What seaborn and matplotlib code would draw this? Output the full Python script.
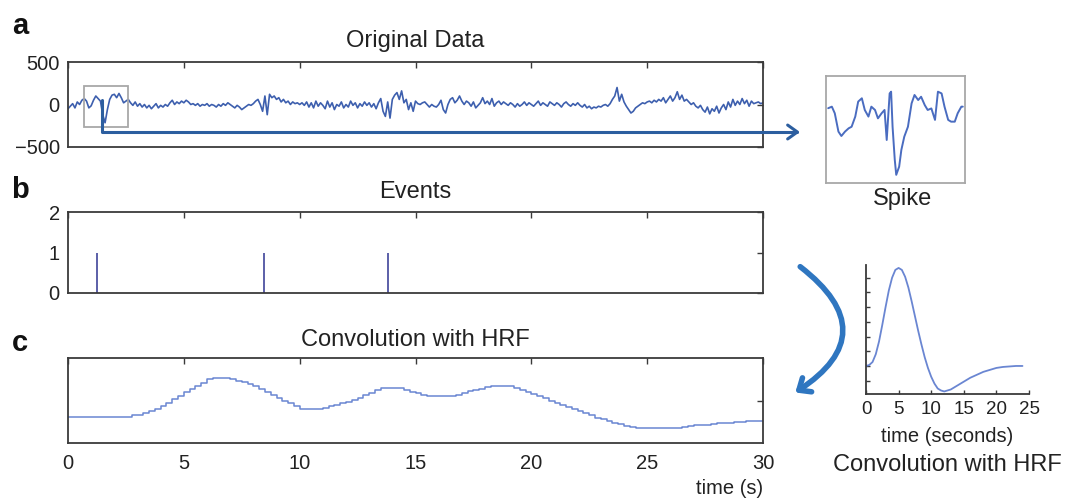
import numpy as np
import pandas as pd
import matplotlib
matplotlib.use("Agg")
import matplotlib.pyplot as plt
import seaborn as sns
from matplotlib.patches import Rectangle, FancyArrowPatch
from matplotlib.path import Path

# ---------------- data ----------------
eeg_step = 0.1  # seconds between samples of the raw trace
eeg_values = [
    -50, -20, 10, -40, 30, 0, 50, 70, 40, -40,
    -15, 50, 100, 70, 40, -120, -215, -60, 60, 110,
    120, 80, 130, 80, 20, 40, 60, 20, -10, 30,
    -20, 10, -30, 0, -40, -10, -50, -20, 10, -40,
    -10, -30, 0, -20, 20, 50, 0, 30, 10, 40,
    20, 50, 30, 0, 10, -10, 10, -20, 0, -10,
    10, -20, 0, -10, -30, 0, -20, 10, -10, 20,
    0, -20, -40, -10, -30, -60, -40, -20, 0, -10,
    10, 40, 60, 0, -80, 100, -120, 120, 80, 100,
    60, 80, 30, 60, 20, 40, 0, 30, 10, 20,
    0, 20, -10, 30, -30, 20, -40, 40, -20, 20,
    -10, -50, 40, -30, 20, -60, 0, -20, 30, -40,
    0, -30, 40, -10, 20, -40, 10, -20, 30, -10,
    20, -30, 10, -50, 20, 70, -80, -140, 30, -160,
    60, 110, 140, 60, 160, 20, 60, -60, 20, -80,
    40, 10, 0, 20, 30, 0, -30, 0, -20, -30,
    0, 50, -60, -100, 0, 60, 80, 20, 50, 100,
    40, 0, 40, 20, -20, 30, -40, -10, 20, 80,
    10, 40, 0, 70, -20, 20, 40, 0, 30, 10,
    -10, 20, 0, -30, 10, -20, 0, 30, -10, 20,
    0, -20, 10, 40, -10, 20, 0, -20, 30, 10,
    -10, 20, 0, -30, 10, 30, 0, -20, 10, -10,
    20, -10, -30, 0, -40, -20, -50, -30, -40, -20,
    -30, -10, 0, -20, 10, 60, 100, 200, 40, 120,
    30, -20, -60, -100, -80, -40, -20, 0, 20, 10,
    30, 40, 20, 50, 30, 60, 40, 80, 20, 60,
    100, 40, 80, 150, 60, 110, 40, 60, 30, 0,
    20, -20, -40, -10, -60, -90, -30, -110, -50, -80,
    -20, -100, -40, 0, -60, 30, -30, 60, -10, 40,
    0, 70, 10, 50, -20, 40, 10, 20, 30, 10,
    20,
]

spike_t = [0.72, 0.77, 0.81, 0.86, 0.90, 0.95, 1.00, 1.04, 1.09, 1.13, 1.18,
           1.22, 1.27, 1.31, 1.36, 1.40, 1.45, 1.49, 1.52, 1.56, 1.58, 1.60,
           1.63, 1.65, 1.69, 1.72, 1.76, 1.81, 1.86, 1.90, 1.95, 1.99, 2.04,
           2.08, 2.13, 2.18, 2.22, 2.27, 2.31, 2.36, 2.40, 2.45, 2.49, 2.54, 2.56]
spike_v = [74, 81, 51, -32, -52, -32, -17, -10, 36, 104, 119,
           66, 36, 81, 66, 28, 51, 66, -70, 141, 149, -10,
           -160, -228, -191, -115, -55, -10, 96, 134, 111, 126, 88,
           66, 73, 21, 149, 141, 81, 21, 13, 13, 51, 81, 81]
spike_window = (0.69, 2.59)
spike_range = (-265, 220)

event_times = [1.25, 8.47, 13.8]
event_heights = [1, 1, 1]

conv_step = 0.25
conv_values = [
    0.62, 0.62, 0.62, 0.62,
    0.62, 0.62, 0.62, 0.62,
    0.62, 0.62, 0.62, 0.66,
    0.66, 0.70, 0.75, 0.81,
    0.88, 0.95, 1.03, 1.11,
    1.19, 1.27, 1.35, 1.42,
    1.50, 1.52, 1.52, 1.52,
    1.50, 1.47, 1.43, 1.38,
    1.33, 1.27, 1.21, 1.14,
    1.07, 1.00, 0.93, 0.86,
    0.80, 0.80, 0.80, 0.80,
    0.83, 0.86, 0.89, 0.93,
    0.97, 1.02, 1.07, 1.12,
    1.17, 1.24, 1.29, 1.29,
    1.29, 1.29, 1.25, 1.21,
    1.18, 1.14, 1.10, 1.10,
    1.10, 1.10, 1.10, 1.14,
    1.18, 1.22, 1.25, 1.28,
    1.31, 1.33, 1.35, 1.35,
    1.33, 1.29, 1.24, 1.20,
    1.15, 1.10, 1.05, 1.00,
    0.95, 0.90, 0.85, 0.80,
    0.75, 0.70, 0.65, 0.60,
    0.56, 0.51, 0.47, 0.44,
    0.41, 0.38, 0.35, 0.35,
    0.35, 0.35, 0.35, 0.35,
    0.35, 0.35, 0.38, 0.40,
    0.42, 0.42, 0.42, 0.45,
    0.47, 0.47, 0.47, 0.49,
    0.50, 0.52, 0.52, 0.52,
    0.52,
]

hrf_t = [0, 0.5, 1, 1.5, 2, 2.5, 3, 3.5, 4, 4.5, 5, 5.5, 6, 6.5, 7, 7.5, 8,
         8.5, 9, 9.5, 10, 10.5, 11, 11.5, 12, 12.5, 13, 13.5, 14, 15, 16, 17,
         18, 19, 20, 21, 22, 23, 24]
hrf_v = [0.0, 0.01, 0.04, 0.12, 0.25, 0.42, 0.60, 0.77, 0.90, 0.98, 1.0,
         0.98, 0.91, 0.80, 0.66, 0.51, 0.36, 0.22, 0.09, -0.02, -0.11, -0.18,
         -0.23, -0.25, -0.26, -0.25, -0.24, -0.22, -0.20, -0.16, -0.12, -0.09,
         -0.06, -0.04, -0.02, -0.01, -0.005, 0.0, 0.0]

time_ticks = [0, 5, 10, 15, 20, 25, 30]
hrf_ticks = [0, 5, 10, 15, 20, 25]

# ---------------- style ----------------
sns.set_theme(style="white")
plt.rcParams["font.family"] = ["Liberation Sans", "DejaVu Sans"]
plt.rcParams["axes.unicode_minus"] = True

W, H = 1076, 501
fig = plt.figure(figsize=(W / 100, H / 100), dpi=100)
fig.patch.set_facecolor("white")

SPINE = "#3a3a3a"
TXT = "#222222"
TICK_FS = 14.5
TITLE_FS = 17
LABEL_FS = 14.5
LETTER_FS = 21


def px_axes(x0, y0, x1, y1):
    return fig.add_axes([x0 / W, 1 - y1 / H, (x1 - x0) / W, (y1 - y0) / H])


def fy(y):
    return 1 - y / H


def box_style(ax, color=SPINE):
    for s in ax.spines.values():
        s.set_visible(True)
        s.set_color(color)
        s.set_linewidth(1.3)
    ax.tick_params(direction="in", top=True, right=True, length=4,
                   width=1.0, color=SPINE, labelsize=TICK_FS, labelcolor=TXT, pad=6)


LINE_A = "#3d5fae"
LINE_C = "#6a86d2"

# ---------------- panel a ----------------
ax_a = px_axes(68, 62, 763, 147)
eeg_df = pd.DataFrame({"t": np.arange(len(eeg_values)) * eeg_step, "v": eeg_values})
sns.lineplot(data=eeg_df, x="t", y="v", ax=ax_a, color=LINE_A, linewidth=1.2)
ax_a.set_xlim(0, 30)
ax_a.set_ylim(-500, 500)
ax_a.set_xticks(time_ticks)
ax_a.set_xticklabels([])
ax_a.set_yticks([-500, 0, 500])
ax_a.set_yticklabels(["\u2212500", "0", "500"])
ax_a.set_xlabel("")
ax_a.set_ylabel("")
box_style(ax_a)
ax_a.add_patch(Rectangle((spike_window[0], spike_range[0]),
                         spike_window[1] - spike_window[0],
                         spike_range[1] - spike_range[0],
                         fill=False, edgecolor="#a8a8a8", linewidth=1.3, zorder=5))

# ---------------- spike inset ----------------
ax_s = px_axes(826, 76, 965, 183)
spike_df = pd.DataFrame({"t": spike_t, "v": spike_v})
sns.lineplot(data=spike_df, x="t", y="v", ax=ax_s, color="#4a6cc0", linewidth=1.4)
ax_s.set_xlim(*spike_window)
ax_s.set_ylim(*spike_range)
ax_s.set_xticks([])
ax_s.set_yticks([])
ax_s.set_xlabel("")
ax_s.set_ylabel("")
for s in ax_s.spines.values():
    s.set_visible(True)
    s.set_color("#a8a8a8")
    s.set_linewidth(1.3)

# ---------------- panel b ----------------
ax_b = px_axes(68, 212, 763, 293)
ax_b.vlines(event_times, 0, event_heights, color="#5b5fa8", linewidth=1.4)
ax_b.set_xlim(0, 30)
ax_b.set_ylim(0, 2)
ax_b.set_xticks(time_ticks)
ax_b.set_xticklabels([])
ax_b.set_yticks([0, 1, 2])
ax_b.set_yticklabels(["0", "1", "2"])
box_style(ax_b)

# ---------------- panel c ----------------
ax_c = px_axes(68, 358, 763, 443)
conv_df = pd.DataFrame({"t": np.arange(len(conv_values)) * conv_step, "v": conv_values})
sns.lineplot(data=conv_df, x="t", y="v", ax=ax_c, color=LINE_C, linewidth=1.1,
             drawstyle="steps-post")
ax_c.set_xlim(0, 30)
ax_c.set_ylim(0, 2)
ax_c.set_xticks(time_ticks)
ax_c.set_xticklabels([str(t) for t in time_ticks])
ax_c.set_yticks([1])
ax_c.set_yticklabels([])
ax_c.set_xlabel("")
ax_c.set_ylabel("")
box_style(ax_c)
ax_c.tick_params(axis="x", pad=8)

# ---------------- HRF inset ----------------
ax_h = px_axes(866, 265, 1029, 394)
hrf_df = pd.DataFrame({"t": hrf_t, "v": hrf_v})
sns.lineplot(data=hrf_df, x="t", y="v", ax=ax_h, color=LINE_C, linewidth=1.3)
ax_h.set_xlim(0, 25)
ax_h.set_ylim(-0.286, 1.03)
ax_h.set_xticks(hrf_ticks)
ax_h.set_xticklabels([str(t) for t in hrf_ticks])
ax_h.set_yticks([-0.15, 0.0, 0.15, 0.30, 0.45, 0.60, 0.75, 0.90])
ax_h.set_yticklabels([])
ax_h.set_xlabel("")
ax_h.set_ylabel("")
for side in ["top", "right"]:
    ax_h.spines[side].set_visible(False)
for side in ["left", "bottom"]:
    ax_h.spines[side].set_visible(True)
    ax_h.spines[side].set_color(SPINE)
    ax_h.spines[side].set_linewidth(1.3)
ax_h.tick_params(direction="in", length=3, width=1.0, color=SPINE,
                 labelsize=13.5, labelcolor=TXT, pad=5, bottom=True, left=True)

# ---------------- texts ----------------
fig.text(20 / W, fy(26), "a", fontsize=LETTER_FS, fontweight="bold", ha="center", va="center", color="#111")
fig.text(20 / W, fy(190), "b", fontsize=LETTER_FS, fontweight="bold", ha="center", va="center", color="#111")
fig.text(20 / W, fy(343), "c", fontsize=LETTER_FS, fontweight="bold", ha="center", va="center", color="#111")
fig.text(415 / W, fy(41), "Original Data", fontsize=TITLE_FS, ha="center", va="center", color=TXT)
fig.text(415 / W, fy(192), "Events", fontsize=TITLE_FS, ha="center", va="center", color=TXT)
fig.text(415 / W, fy(340), "Convolution with HRF", fontsize=TITLE_FS, ha="center", va="center", color=TXT)
fig.text(903 / W, fy(199), "Spike", fontsize=TITLE_FS, ha="center", va="center", color=TXT)
fig.text(947 / W, fy(437), "time (seconds)", fontsize=LABEL_FS, ha="center", va="center", color=TXT)
fig.text(947 / W, fy(465), "Convolution with HRF", fontsize=TITLE_FS, ha="center", va="center", color=TXT)
fig.text(763 / W, fy(488), "time (s)", fontsize=LABEL_FS, ha="right", va="center", color=TXT)

# ---------------- arrows ----------------
ARROW = "#2c5e9f"
path = Path([(102 / W, fy(100)), (102 / W, fy(132)), (800 / W, fy(132))],
            [Path.MOVETO, Path.LINETO, Path.LINETO])
arr1 = FancyArrowPatch(path=path, arrowstyle="->,head_length=7,head_width=5",
                       color=ARROW, linewidth=2.2, transform=fig.transFigure)
fig.add_artist(arr1)

arr2 = FancyArrowPatch((798 / W, fy(265)), (793 / W, fy(394)),
                       connectionstyle="arc3,rad=-0.72",
                       arrowstyle="->,head_length=7,head_width=6",
                       color="#2f76c0", linewidth=4, transform=fig.transFigure)
fig.add_artist(arr2)

fig.savefig("out.png", dpi=100, facecolor="white")
